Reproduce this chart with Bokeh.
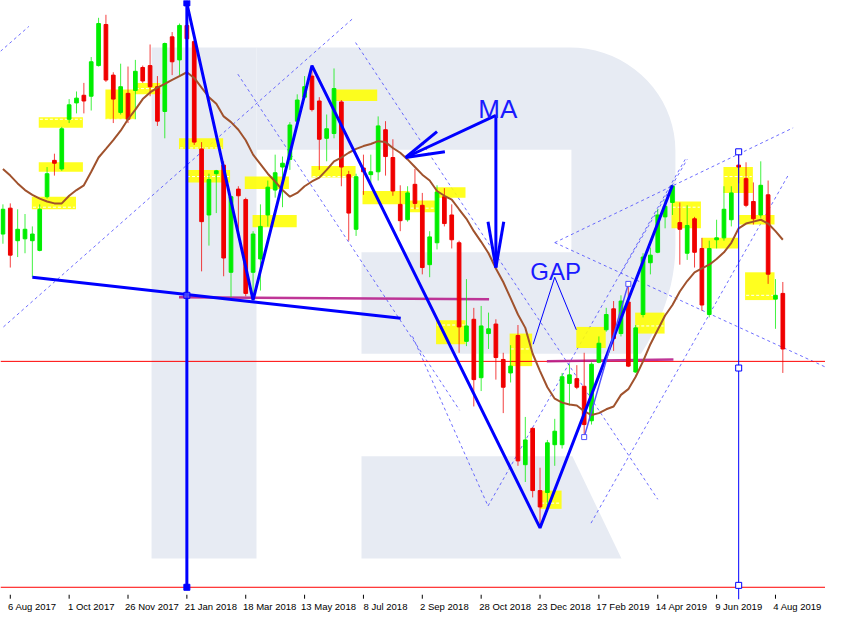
import numpy as np
from bokeh.plotting import figure
from bokeh.models import Range1d, FixedTicker, ColumnDataSource
from bokeh.embed import file_html
from bokeh.resources import INLINE
from bokeh.core.properties import value

# ---------------- data (DAX weekly, week index 0 = 30 Jul 2017) ----------------
tick_idx = [1, 9, 17, 25, 33, 41, 49, 57, 65, 73, 81, 89, 97, 105]
tick_labels = ["6 Aug 2017", "1 Oct 2017", "26 Nov 2017", "21 Jan 2018", "18 Mar 2018",
               "13 May 2018", "8 Jul 2018", "2 Sep 2018", "28 Oct 2018", "23 Dec 2018",
               "17 Feb 2019", "14 Apr 2019", "9 Jun 2019", "4 Aug 2019"]

opens = [12137, 12300, 12095, 12107, 12095, 12034, 12372, 12601, 12547, 12860,
         12963, 13011, 13005, 13198, 13457, 13138, 12903, 13023, 13041, 13186,
         13198, 13065, 12909, 13379, 13234, 13451, 13349, 12673, 12257, 12517,
         12571, 11896, 12420, 12354, 11896, 11980, 12257, 12414, 12559, 12607,
         12848, 12999, 13132, 12975, 12740, 12770, 12969, 12511, 12167, 12553,
         12511, 12529, 12794, 12619, 12324, 12227, 12450, 12318, 11944, 12082,
         12372, 12257, 12082, 11461, 11600, 11232, 11510, 11570, 11347, 11262,
         11498, 10684, 10913, 10521, 10509, 10810, 10810, 11196, 11226, 11178,
         10961, 11329, 11534, 11666, 11510, 11709, 11268, 11630, 11956, 12022,
         12245, 12336, 12209, 12016, 12233, 12046, 11630, 12101, 12113, 12227,
         12571, 12486, 12342, 12257, 12384, 11727, 11763]
highs = [12324, 12330, 12293, 12263, 12185, 12324, 12559, 12643, 12812, 12987,
         13035, 13089, 13252, 13499, 13518, 13156, 13210, 13192, 13234, 13198,
         13331, 13132, 13343, 13409, 13463, 13590, 13361, 12716, 12517, 12541,
         12595, 12378, 12438, 12366, 12155, 12324, 12474, 12637, 12625, 12842,
         13017, 13132, 13198, 12999, 12890, 13180, 12981, 12535, 12517, 12637,
         12637, 12878, 12848, 12734, 12444, 12438, 12547, 12396, 12155, 12444,
         12426, 12324, 12095, 11853, 11672, 11684, 11642, 11600, 11389, 11437,
         11564, 10985, 10919, 10665, 10840, 10973, 11262, 11317, 11311, 11389,
         11329, 11492, 11672, 11715, 11751, 11823, 11564, 12016, 12052, 12293,
         12354, 12444, 12336, 12318, 12245, 12113, 12095, 12227, 12438, 12438,
         12655, 12589, 12462, 12595, 12474, 11853, 11835]
lows = [12076, 11926, 11992, 12016, 11865, 12028, 12360, 12505, 12535, 12836,
        12897, 12897, 12915, 13192, 13095, 12836, 12890, 12836, 12860, 13089,
        13005, 12818, 12740, 13138, 13138, 13361, 12698, 11902, 12064, 12269,
        11871, 11739, 12113, 11745, 11721, 11781, 12185, 12366, 12306, 12541,
        12836, 12987, 12909, 12541, 12595, 12740, 12438, 12095, 12125, 12384,
        12456, 12474, 12505, 12378, 12155, 12215, 12293, 11883, 11865, 12040,
        12185, 12046, 11389, 11431, 11051, 11148, 11413, 11220, 11009, 11202,
        10677, 10575, 10478, 10286, 10388, 10677, 10786, 11057, 11160, 10858,
        10937, 11323, 11522, 11401, 11492, 11299, 11262, 11612, 11883, 12016,
        12173, 12257, 11944, 11974, 11926, 11654, 11612, 12046, 12095, 12185,
        12456, 12306, 12197, 12239, 11823, 11540, 11262]
closes = [12293, 12004, 12167, 12167, 12137, 12293, 12517, 12583, 12800, 12951,
          12993, 12975, 13222, 13463, 13107, 12987, 13065, 12860, 13162, 13101,
          13065, 12848, 13337, 13222, 13451, 13367, 12716, 12215, 12480, 12535,
          11986, 12372, 12378, 11763, 12137, 12185, 12432, 12523, 12583, 12824,
          12981, 13065, 12921, 12734, 12800, 13053, 12559, 12269, 12498, 12529,
          12529, 12818, 12625, 12408, 12221, 12396, 12330, 11926, 12119, 12402,
          12203, 12101, 11552, 11558, 11220, 11558, 11540, 11359, 11172, 11305,
          10708, 10840, 10521, 10418, 10822, 10895, 11238, 11250, 11172, 10937,
          11317, 11449, 11630, 11479, 11715, 11305, 11546, 11992, 12004, 12257,
          12312, 12438, 12167, 12191, 12022, 11690, 12046, 12113, 12293, 12396,
          12559, 12318, 12233, 12444, 11884, 11751, 11413]
ma_values = [12547, 12505, 12456, 12414, 12384, 12360, 12342, 12330, 12330, 12378,
             12414, 12444, 12529, 12619, 12673, 12728, 12788, 12860, 12921, 12987,
             13029, 13059, 13083, 13108, 13132, 13156, 13120, 13059, 12999, 12957,
             12878, 12842, 12794, 12728, 12637, 12577, 12517, 12468, 12414, 12372,
             12396, 12438, 12468, 12492, 12541, 12595, 12619, 12649, 12673, 12691,
             12704, 12722, 12716, 12679, 12649, 12607, 12559, 12511, 12474, 12408,
             12378, 12354, 12293, 12233, 12155, 12088, 12016, 11920, 11835, 11733,
             11630, 11546, 11383, 11274, 11172, 11100, 11075, 11063, 11057, 11021,
             10997, 11009, 11033, 11051, 11124, 11160, 11238, 11335, 11443, 11534,
             11624, 11690, 11775, 11841, 11896, 11920, 11944, 11980, 12022, 12082,
             12173, 12203, 12215, 12227, 12203, 12155, 12101]

# highlight boxes: left/right week index, top/bottom price, inner dashed level
box_left = [4.87, 4.87, 3.93, 13.93, 17.93, 23.93, 24.87, 32.87, 33.93, 41.93, 45.27, 48.87,
            55.27, 58.73, 58.87, 68.87, 77.93, 85.93, 73.0, 90.87, 95.0, 97.93, 100.07, 100.87]
box_right = [10.87, 10.87, 9.93, 17.93, 21.4, 29.93, 30.87, 38.87, 39.93, 47.93, 50.87, 55.27,
             58.73, 62.87, 62.87, 71.93, 81.93, 89.93, 75.93, 94.87, 99.93, 101.93, 104.87, 104.87]
box_top = [12872, 12589, 12372, 13047, 13089, 12740, 12541, 12499, 12257, 12565, 13047, 12408,
           12348, 12432, 11594, 11510, 11552, 11642, 10521, 12342, 12113, 12559, 12257, 11896]
box_bottom = [12806, 12529, 12293, 12860, 13017, 12673, 12462, 12420, 12179, 12493, 12975, 12324,
              12275, 12366, 11443, 11305, 11419, 11510, 10406, 12173, 12046, 12396, 12197, 11721]
box_dash = [12860, np.nan, 12306, 12860, 13053, 12679, 12499, np.nan, np.nan, 12499, np.nan, np.nan,
            12300, np.nan, 11564, 11413, np.nan, 11558, 10442, 12306, np.nan, 12499, np.nan, 11751]

# drawn objects (week index, price)
zigzag_idx = [25, 34, 42, 73, 91]
zigzag_price = [13590, 11721, 13198, 10286, 12444]
neck_idx = [4, 54.07]
neck_price = [11865, 11606]
support1_idx = [23.93, 66.07]
support1_price = [11739, 11727]
support2_idx = [73.93, 91.13]
support2_price = [11335, 11347]
last_price = 11335
floor_price = 9912
vline1_idx = 25
vline2_idx = 100.0
vline2_top = 12655
gap_seg_idx = [79, 85]
gap_seg_price = [10858, 11823]
dotted_x = [[-0.33, 3.53], [0.07, 47.67], [31.93, 62.07], [47.93, 89.0], [55.67, 65.93],
            [75.0, 107.4], [75.0, 111.8], [65.93, 92.73], [83.93, 93.0], [79.93, 106.7]]
dotted_y = [[13288, 13445], [11552, 13499], [13144, 11027], [13343, 10466], [11492, 10424],
            [12083, 12806], [12083, 11299], [10424, 12607], [11884, 12607], [10316, 12505]]
ma_arrow_x = [[67, 54.73], [54.73, 59.0], [54.73, 60.07], [67, 67], [65.93, 67], [68.07, 67]]
ma_arrow_y = [[12884, 12619], [12619, 12782], [12619, 12655], [12884, 11926], [12215, 11926], [12215, 11926]]
gap_mark_x = [72.07, 75.0, 77.93]
gap_mark_y = [11443, 11865, 11534]

# ---------------- figure ----------------
Y_LO, Y_HI = 9835, 13608
X_LO, X_HI = -0.33, 111.8
p = figure(width=825, height=614, x_range=Range1d(X_LO, X_HI), y_range=Range1d(Y_LO, Y_HI),
           output_backend="svg", toolbar_location=None, min_border_left=0, min_border_right=0,
           min_border_top=0, min_border_bottom=0)
p.grid.visible = False
p.yaxis.visible = False
p.outline_line_color = None
p.background_fill_color = "white"

# watermark "R" (decoration, described in week-index / price space)
def wx(px):
    return (px - 2.5) / 7.5

def wy(py):
    return 13602 - 6.03 * py

WM = "#E7EBF3"
p.quad(left=[wx(154)], right=[wx(261)], top=[wy(48)], bottom=[wy(582)], fill_color=WM, line_color=None)
t = np.linspace(-np.pi / 2, 0, 20)
arc1_x = 580 + 108 * np.cos(t)
arc1_y = 156 + 108 * np.sin(t)
t2 = np.linspace(0, 1, 12)
arc2_x = 688 - 35 * t2 ** 2
arc2_y = 255 + 113 * t2
bx = np.concatenate([[261], arc1_x, arc2_x, [368, 368, 582, 582, 261]])
by = np.concatenate([[48], arc1_y, arc2_y, [368, 262, 262, 155, 155]])
p.patch(wx(bx), wy(by), fill_color=WM, line_color=None)
p.patch(wx(np.array([368, 583, 633, 368])), wy(np.array([475, 475, 582, 582])), fill_color=WM, line_color=None)

# dotted channel lines
p.multi_line(dotted_x, dotted_y, line_color="#3c3cff", line_alpha=0.75, line_width=1, line_dash="3 3")

# highlight boxes
p.quad(left=box_left, right=box_right, top=box_top, bottom=box_bottom,
       fill_color="#FFFF00", fill_alpha=0.88, line_color=None)
dl = np.array(box_left) + 0.15
dr = np.array(box_right) - 0.15
p.segment(dl, box_dash, dr, box_dash, line_color="white", line_width=1, line_dash="3 2")

# horizontal price lines
p.segment([X_LO], [last_price], [X_HI], [last_price], line_color="#FF0000", line_width=1)
p.segment([X_LO], [floor_price], [X_HI], [floor_price], line_color="#FF0000", line_width=1)
p.line(support1_idx, support1_price, line_color="#B8208C", line_width=2.5, line_alpha=0.9)
p.line(support2_idx, support2_price, line_color="#B8208C", line_width=2.5, line_alpha=0.9)

# candles
o = np.array(opens, dtype=float)
c = np.array(closes, dtype=float)
idx = np.arange(len(o))
cols = np.where(c >= o, "#00EE00", "#F00000")
src = ColumnDataSource(dict(x=idx, hi=highs, lo=lows, top=np.maximum(o, c), bot=np.minimum(o, c), col=cols))
p.segment("x", "hi", "x", "lo", line_color="col", line_width=1, line_alpha=0.75, source=src)
p.vbar(x="x", width=0.5, top="top", bottom="bot", fill_color="col", line_color="col", line_width=1, source=src)

# moving average
p.line(idx, ma_values, line_color="#A0522D", line_width=2)

# blue drawings
BLUE = "#0000FF"
p.line(zigzag_idx, zigzag_price, line_color=BLUE, line_width=3)
p.line(neck_idx, neck_price, line_color=BLUE, line_width=3)
p.segment([vline1_idx], [Y_HI], [vline1_idx], [floor_price - 10], line_color=BLUE, line_width=3)
p.scatter([vline1_idx, vline1_idx], [Y_HI - 15, floor_price], marker="square", size=6,
          fill_color=BLUE, line_color=BLUE)
p.scatter([vline1_idx], [11751], marker="square", size=6, fill_color="#8080ff", line_color=BLUE, fill_alpha=0.5)
p.segment([vline2_idx], [vline2_top], [vline2_idx], [Y_LO], line_color=BLUE, line_width=1)
p.scatter([vline2_idx] * 3, [vline2_top, 11293, 9924], marker="square", size=6,
          fill_color="white", line_color=BLUE)
p.line(gap_seg_idx, gap_seg_price, line_color="#5050ff", line_width=1.5)
p.scatter(gap_seg_idx, gap_seg_price, marker="square", size=5, fill_color="white", line_color="#5050ff")
p.multi_line(ma_arrow_x, ma_arrow_y, line_color=BLUE, line_width=3)
p.line(gap_mark_x, gap_mark_y, line_color=BLUE, line_width=1)

p.text(x=[64.6], y=[12927], text=["MA"], text_font=value("Liberation Sans"), text_font_size=value("26px"),
       text_color="#1a1aff", text_baseline="alphabetic", text_align="left")
p.text(x=[71.67], y=[11902], text=["GAP"], text_font=value("Liberation Sans"), text_font_size=value("24px"),
       text_color="#1a1aff", text_baseline="alphabetic", text_align="left")

# date tick marks (inside the frame bottom, like the terminal's time scale)
p.segment(tick_idx, [9865] * len(tick_idx), tick_idx, [9840] * len(tick_idx), line_color="black", line_width=1)

# x axis: labels start at their tick (centre shifted right by half the label width)
label_pos = [t_ + (3.25 if len(l_) > 10 else 3.0) for t_, l_ in zip(tick_idx, tick_labels)]
ax = p.xaxis[0]
ax.ticker = FixedTicker(ticks=label_pos)
ax.major_label_overrides = {t_: l_ for t_, l_ in zip(label_pos, tick_labels)}
ax.major_label_text_font = "Liberation Sans"
ax.major_label_text_font_size = "9.5px"
ax.major_label_text_color = "black"
ax.axis_line_color = None
ax.major_tick_in = 0
ax.major_tick_out = 0
ax.major_tick_line_color = None
ax.minor_tick_line_color = None
ax.major_label_standoff = 1

open("out.html", "w").write(file_html(p, INLINE))
